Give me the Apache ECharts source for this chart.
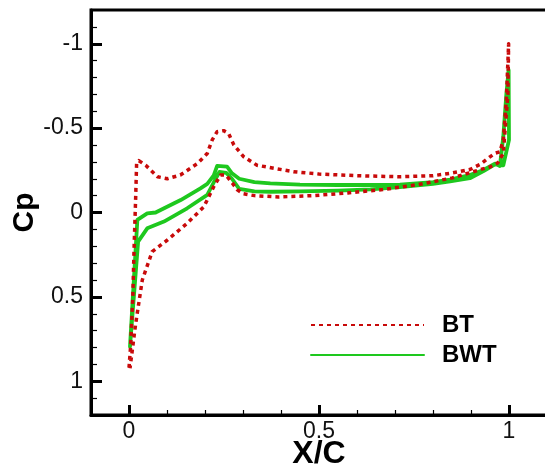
<!DOCTYPE html>
<html>
<head>
<meta charset="utf-8">
<script src="https://cdn.jsdelivr.net/npm/echarts@6/dist/echarts.min.js"></script>
<style>
html,body{margin:0;padding:0;background:#fff;}
#chart{width:545px;height:465px;}
</style>
</head>
<body>
<div id="chart"></div>
<script>
// ---- Data (X/C and Cp) ----
// BT: loop from leading edge along upper surface to trailing edge, then lower surface back
const btX = [0, 0.004, 0.01, 0.0135, 0.0177, 0.02, 0.026, 0.044, 0.075, 0.101, 0.135, 0.18, 0.206, 0.219, 0.232, 0.249, 0.262, 0.276, 0.302, 0.337, 0.381, 0.433, 0.5, 0.6, 0.713, 0.8, 0.845, 0.897, 0.924, 0.95, 0.963, 0.976, 0.985, 0.993, 0.999,
             0.997, 0.985, 0.97, 0.95, 0.924, 0.851, 0.76, 0.668, 0.576, 0.485, 0.393, 0.33, 0.3, 0.285, 0.27, 0.255, 0.241, 0.223, 0.197, 0.153, 0.101, 0.061, 0.035, 0.0177, 0.0026];
const btCp = [0.92, 0.8, 0.5, 0.2, -0.1, -0.29, -0.307, -0.28, -0.212, -0.2, -0.222, -0.29, -0.35, -0.43, -0.479, -0.485, -0.469, -0.4, -0.33, -0.28, -0.262, -0.242, -0.228, -0.218, -0.212, -0.218, -0.232, -0.255, -0.285, -0.33, -0.351, -0.36, -0.43, -0.667, -1.0,
              -0.7, -0.35, -0.293, -0.27, -0.254, -0.205, -0.165, -0.136, -0.116, -0.1, -0.092, -0.1, -0.112, -0.135, -0.18, -0.222, -0.222, -0.153, -0.034, 0.064, 0.163, 0.232, 0.4, 0.657, 0.923];
// BWT
const bwtX = [0.0026, 0.022, 0.048, 0.07, 0.136, 0.188, 0.206, 0.223, 0.232, 0.258, 0.271, 0.29, 0.33, 0.372, 0.45, 0.55, 0.635, 0.713, 0.8, 0.845, 0.897, 0.933, 0.963, 0.976, 0.985, 0.993, 0.999,
              1.0, 0.985, 0.963, 0.933, 0.897, 0.845, 0.8, 0.713, 0.635, 0.55, 0.45, 0.372, 0.33, 0.29, 0.271, 0.256, 0.238, 0.228, 0.206, 0.153, 0.092, 0.048, 0.024, 0.0026];
const bwtCp = [0.795, 0.044, 0.005, 0.0, -0.074, -0.143, -0.17, -0.22, -0.276, -0.272, -0.232, -0.2, -0.18, -0.173, -0.165, -0.163, -0.163, -0.165, -0.18, -0.195, -0.222, -0.252, -0.29, -0.276, -0.45, -0.7, -0.845,
               -0.43, -0.28, -0.285, -0.245, -0.203, -0.185, -0.17, -0.15, -0.137, -0.13, -0.125, -0.123, -0.125, -0.14, -0.2, -0.235, -0.24, -0.2, -0.104, -0.025, 0.054, 0.094, 0.173, 0.795];

const seriesNames = ['BT', 'BWT'];
const xMajorTicks = [0, 0.5, 1];
const xMinorTicks = [0.1, 0.2, 0.3, 0.4, 0.6, 0.7, 0.8, 0.9];
const yMajorTicks = [-1, -0.5, 0, 0.5, 1];
const yMinorTicks = [-1.1, -0.9, -0.8, -0.7, -0.6, -0.4, -0.3, -0.2, -0.1, 0.1, 0.2, 0.3, 0.4, 0.6, 0.7, 0.8, 0.9, 1.1];
const xTitle = 'X/C';
const yTitle = 'Cp';

function zip(a, b) { return a.map((v, i) => [v, b[i]]); }

const FONT = 'Liberation Sans, Arial, Helvetica, sans-serif';
const chart = echarts.init(document.getElementById('chart'), null, {renderer: 'canvas'});

const baseX = {type: 'value', min: -0.1, max: 1.1, position: 'bottom', splitLine: {show: false}};
const baseY = {type: 'value', min: -1.2, max: 1.2, inverse: true, position: 'left', splitLine: {show: false}};

chart.setOption({
  animation: false,
  backgroundColor: '#fff',
  grid: {left: 91, top: 10, width: 456, height: 405, show: true, borderColor: '#000', borderWidth: 3,
         containLabel: false, outerBoundsMode: 'none'},
  legend: {
    data: seriesNames,
    orient: 'vertical',
    left: 305, top: 308,
    itemWidth: 113, itemHeight: 12, itemGap: 6,
    itemStyle: {opacity: 0, color: 'rgba(0,0,0,0)', borderWidth: 0},
    textStyle: {fontFamily: FONT, fontSize: 24, fontWeight: 'bold', color: '#000', padding: [0, 0, 0, 13]}
  },
  xAxis: [
    Object.assign({}, baseX, {
      name: xTitle, nameLocation: 'middle', nameGap: 23, nameMoveOverlap: false,
      nameTextStyle: {fontFamily: FONT, fontSize: 32, fontWeight: 'bold', color: '#000'},
      axisLine: {show: true, onZero: false, lineStyle: {color: '#000', width: 3}},
      axisTick: {show: true, inside: true, length: 10, lineStyle: {color: '#000', width: 3}, customValues: xMajorTicks},
      axisLabel: {show: true, customValues: xMajorTicks, margin: 5, fontFamily: FONT, fontSize: 23, color: '#111'}
    }),
    Object.assign({}, baseX, {
      axisLine: {show: false, onZero: false},
      axisTick: {show: true, inside: true, length: 5, lineStyle: {color: '#000', width: 1.2}, customValues: xMinorTicks},
      axisLabel: {show: false}
    })
  ],
  yAxis: [
    Object.assign({}, baseY, {
      name: yTitle, nameLocation: 'middle', nameGap: 51, nameRotate: 90, nameMoveOverlap: false,
      nameTextStyle: {fontFamily: FONT, fontSize: 30, fontWeight: 'bold', color: '#000'},
      axisLine: {show: true, onZero: false, lineStyle: {color: '#000', width: 3}},
      axisTick: {show: true, inside: true, length: 11, lineStyle: {color: '#000', width: 3}, customValues: yMajorTicks},
      axisLabel: {show: true, customValues: yMajorTicks, margin: 8, fontFamily: FONT, fontSize: 23, color: '#111'}
    }),
    Object.assign({}, baseY, {
      axisLine: {show: false, onZero: false},
      axisTick: {show: true, inside: true, length: 6, lineStyle: {color: '#000', width: 1.2}, customValues: yMinorTicks},
      axisLabel: {show: false}
    })
  ],
  series: [
    {
      name: 'BWT', type: 'line', xAxisIndex: 0, yAxisIndex: 0,
      data: zip(bwtX, bwtCp), showSymbol: false, symbol: 'none', smooth: false,
      lineStyle: {color: '#1ec81e', width: 3.8, type: 'solid', join: 'round', cap: 'round'},
      itemStyle: {color: '#1ec81e'}
    },
    {
      name: 'BT', type: 'line', xAxisIndex: 0, yAxisIndex: 0,
      data: zip(btX, btCp), showSymbol: false, symbol: 'none', smooth: false,
      lineStyle: {color: '#c80a0a', width: 3.5, type: [4, 4], join: 'round'},
      itemStyle: {color: '#c80a0a'}
    }
  ]
});
</script>
</body>
</html>
